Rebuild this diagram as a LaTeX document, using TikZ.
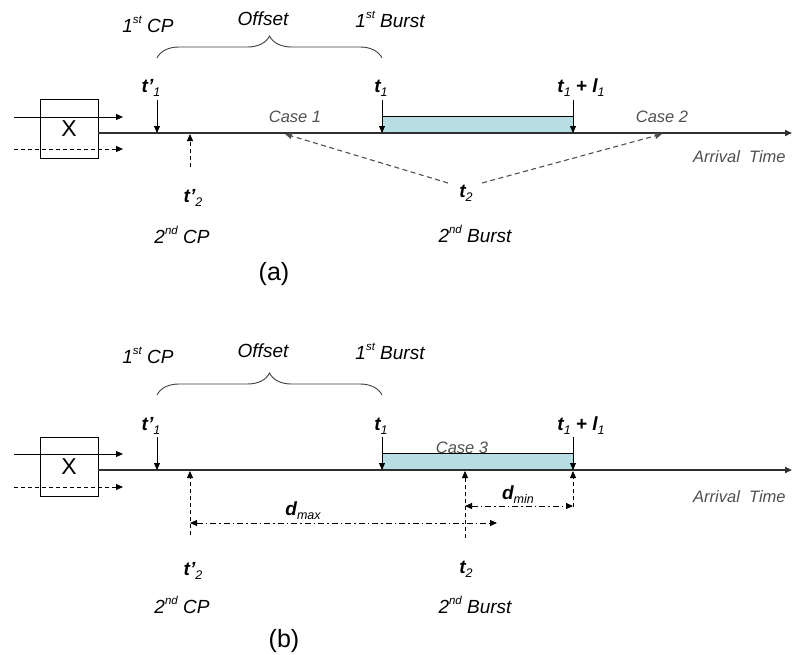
\documentclass[tikz,border=0pt]{standalone}
\usepackage{fontspec}
\setmainfont{Liberation Sans}
\usetikzlibrary{arrows.meta,decorations.pathreplacing}
\definecolor{burst}{HTML}{B7DEE2}
\definecolor{casegray}{HTML}{505050}
\definecolor{linegray}{HTML}{303030}
\newcommand\sbx[1]{\raisebox{-0.45ex}{\fontsize{12.5}{13}\selectfont\mdseries\itshape #1}}
\newcommand\spx[1]{\raisebox{0.8ex}{\fontsize{11.5}{12}\selectfont #1}}
\tikzset{
  arr/.style={-{Triangle[length=7pt,width=6pt]}},
  arrs/.style={{Triangle[length=7pt,width=6pt]}-{Triangle[length=7pt,width=6pt]}},
  thinl/.style={line width=0.9pt,black},
  dashl/.style={line width=0.9pt,black,dash pattern=on 4pt off 3pt},
  caseline/.style={line width=1.1pt,casegray,dash pattern=on 5pt off 3.5pt},
  dashdot/.style={line width=0.9pt,black,dash pattern=on 6pt off 3pt on 1.5pt off 3pt},
  mainl/.style={line width=2pt,linegray},
  xbox/.style={draw,line width=0.9pt,minimum width=58pt,minimum height=59pt,inner sep=0pt,font=\fontsize{23}{25}\selectfont},
  burstbox/.style={draw,line width=0.9pt,fill=burst,minimum width=191pt,minimum height=17pt,inner sep=0pt},
  lbl/.style={anchor=base,inner sep=0pt,font=\fontsize{19}{21}\selectfont\itshape},
  tl/.style={anchor=base,inner sep=0pt,font=\fontsize{19}{21}\selectfont\bfseries\itshape},
  casel/.style={anchor=base,inner sep=0pt,text=casegray,font=\fontsize{16.5}{18}\selectfont\itshape},
  capl/.style={anchor=base,inner sep=0pt,font=\fontsize{25}{27}\selectfont},
  bracel/.style={decorate,decoration={brace,amplitude=22pt},line width=0.9pt,black!75},
}
\begin{document}
\begin{tikzpicture}[x=1pt,y=-1pt]
\useasboundingbox[fill=white] (0,0) rectangle (792,654);
% ================= panel (a) =================
\node[xbox] (aX) at (69,128.5) {X};
\coordinate (aInS) at (14,117); \coordinate (aInE) at (123,117);
\coordinate (aInDS) at (14,149); \coordinate (aInDE) at (123,149);
\draw[thinl,arr] (aInS) -- (aInE);
\draw[dashl,arr] (aInDS) -- (aInDE);
\node[burstbox] (aBurst) at (477.5,124.5) {};
\coordinate (aL0) at (98,133); \coordinate (aL1) at (792,133);
\draw[mainl,arr] (aL0) -- (aL1);
\coordinate (aP1t) at (157,100); \coordinate (aP1) at (157,133);
\coordinate (aT1t) at (382,100); \coordinate (aT1) at (382,133);
\coordinate (aTLt) at (573,100); \coordinate (aTL) at (573,133);
\draw[thinl,arr] (aP1t) -- (aP1);
\draw[thinl,arr] (aT1t) -- (aT1);
\draw[thinl,arr] (aTLt) -- (aTL);
\coordinate (aP2b) at (190,167); \coordinate (aP2) at (190,134);
\draw[dashl,arr] (aP2b) -- (aP2);
\coordinate (aS1) at (448,183); \coordinate (aE1) at (285,134);
\coordinate (aS2) at (482,183); \coordinate (aE2) at (662,134);
\draw[caseline,arr] (aS1) -- (aE1);
\draw[caseline,arr] (aS2) -- (aE2);
\coordinate (aBrL) at (157,58); \coordinate (aBrR) at (382,58);
\draw[bracel] (aBrL) -- (aBrR);
\node[lbl] (aCP1) at (148,32) {1\spx{st} CP};
\node[lbl] (aOff) at (263,25) {Offset};
\node[lbl] (aB1) at (390,27) {1\spx{st} Burst};
\node[tl] (at1p) at (151,92) {t’\sbx{1}};
\node[tl] (at1) at (381,92) {t\sbx{1}};
\node[tl] (atl) at (581,92) {t\sbx{1} + l\sbx{1}};
\node[casel] (aC1) at (295,122) {Case 1};
\node[casel] (aC2) at (662,122) {Case 2};
\node[casel,anchor=base west] (aAT) at (693,162) {Arrival\ \ Time};
\node[tl] (at2p) at (193,202) {t’\sbx{2}};
\node[lbl] (aCP2) at (182,243) {2\spx{nd} CP};
\node[tl] (at2) at (466,197) {t\sbx{2}};
\node[lbl] (aB2) at (475,242) {2\spx{nd} Burst};
\node[capl] (acap) at (274,280) {(a)};
% ================= panel (b) =================
\node[xbox] (bX) at (69,467) {X};
\coordinate (bInS) at (14,454); \coordinate (bInE) at (123,454);
\coordinate (bInDS) at (14,487); \coordinate (bInDE) at (123,487);
\draw[thinl,arr] (bInS) -- (bInE);
\draw[dashl,arr] (bInDS) -- (bInDE);
\node[burstbox] (bBurst) at (477.5,462) {};
\coordinate (bL0) at (98,470); \coordinate (bL1) at (792,470);
\draw[mainl,arr] (bL0) -- (bL1);
\coordinate (bP1t) at (157,437); \coordinate (bP1) at (157,470);
\coordinate (bT1t) at (382,437); \coordinate (bT1) at (382,470);
\coordinate (bTLt) at (573,437); \coordinate (bTL) at (573,470);
\draw[thinl,arr] (bP1t) -- (bP1);
\draw[thinl,arr] (bT1t) -- (bT1);
\draw[thinl,arr] (bTLt) -- (bTL);
\coordinate (bP2b) at (190,535); \coordinate (bP2) at (190,471);
\draw[dashl,arr] (bP2b) -- (bP2);
\coordinate (bT2b) at (465,538); \coordinate (bT2) at (465,471);
\draw[dashl,arr] (bT2b) -- (bT2);
\coordinate (bTLb) at (573,507); \coordinate (bTLu) at (573,471);
\draw[dashl,arr] (bTLb) -- (bTLu);
\coordinate (bDmaxL) at (190,523); \coordinate (bDmaxR) at (497,523);
\draw[dashdot,arrs] (bDmaxL) -- (bDmaxR);
\coordinate (bDminL) at (465,506); \coordinate (bDminR) at (573,506);
\draw[dashdot,arrs] (bDminL) -- (bDminR);
\coordinate (bBrL) at (157,395); \coordinate (bBrR) at (382,395);
\draw[bracel] (bBrL) -- (bBrR);
\node[lbl] (bCP1) at (148,363) {1\spx{st} CP};
\node[lbl] (bOff) at (263,357) {Offset};
\node[lbl] (bB1) at (390,359) {1\spx{st} Burst};
\node[tl] (bt1p) at (151,430) {t’\sbx{1}};
\node[tl] (bt1) at (381,430) {t\sbx{1}};
\node[tl] (btl) at (581,430) {t\sbx{1} + l\sbx{1}};
\node[casel] (bC3) at (462,453) {Case 3};
\node[casel,anchor=base west] (bAT) at (693,502) {Arrival\ \ Time};
\node[tl] (bdmax) at (303,515) {d\sbx{max}};
\node[tl] (bdmin) at (518,499) {d\sbx{min}};
\node[tl] (bt2p) at (193,575) {t’\sbx{2}};
\node[lbl] (bCP2) at (182,613) {2\spx{nd} CP};
\node[tl] (bt2) at (466,573) {t\sbx{2}};
\node[lbl] (bB2) at (475,613) {2\spx{nd} Burst};
\node[capl] (bcap) at (284,647) {(b)};
\end{tikzpicture}
\end{document}
